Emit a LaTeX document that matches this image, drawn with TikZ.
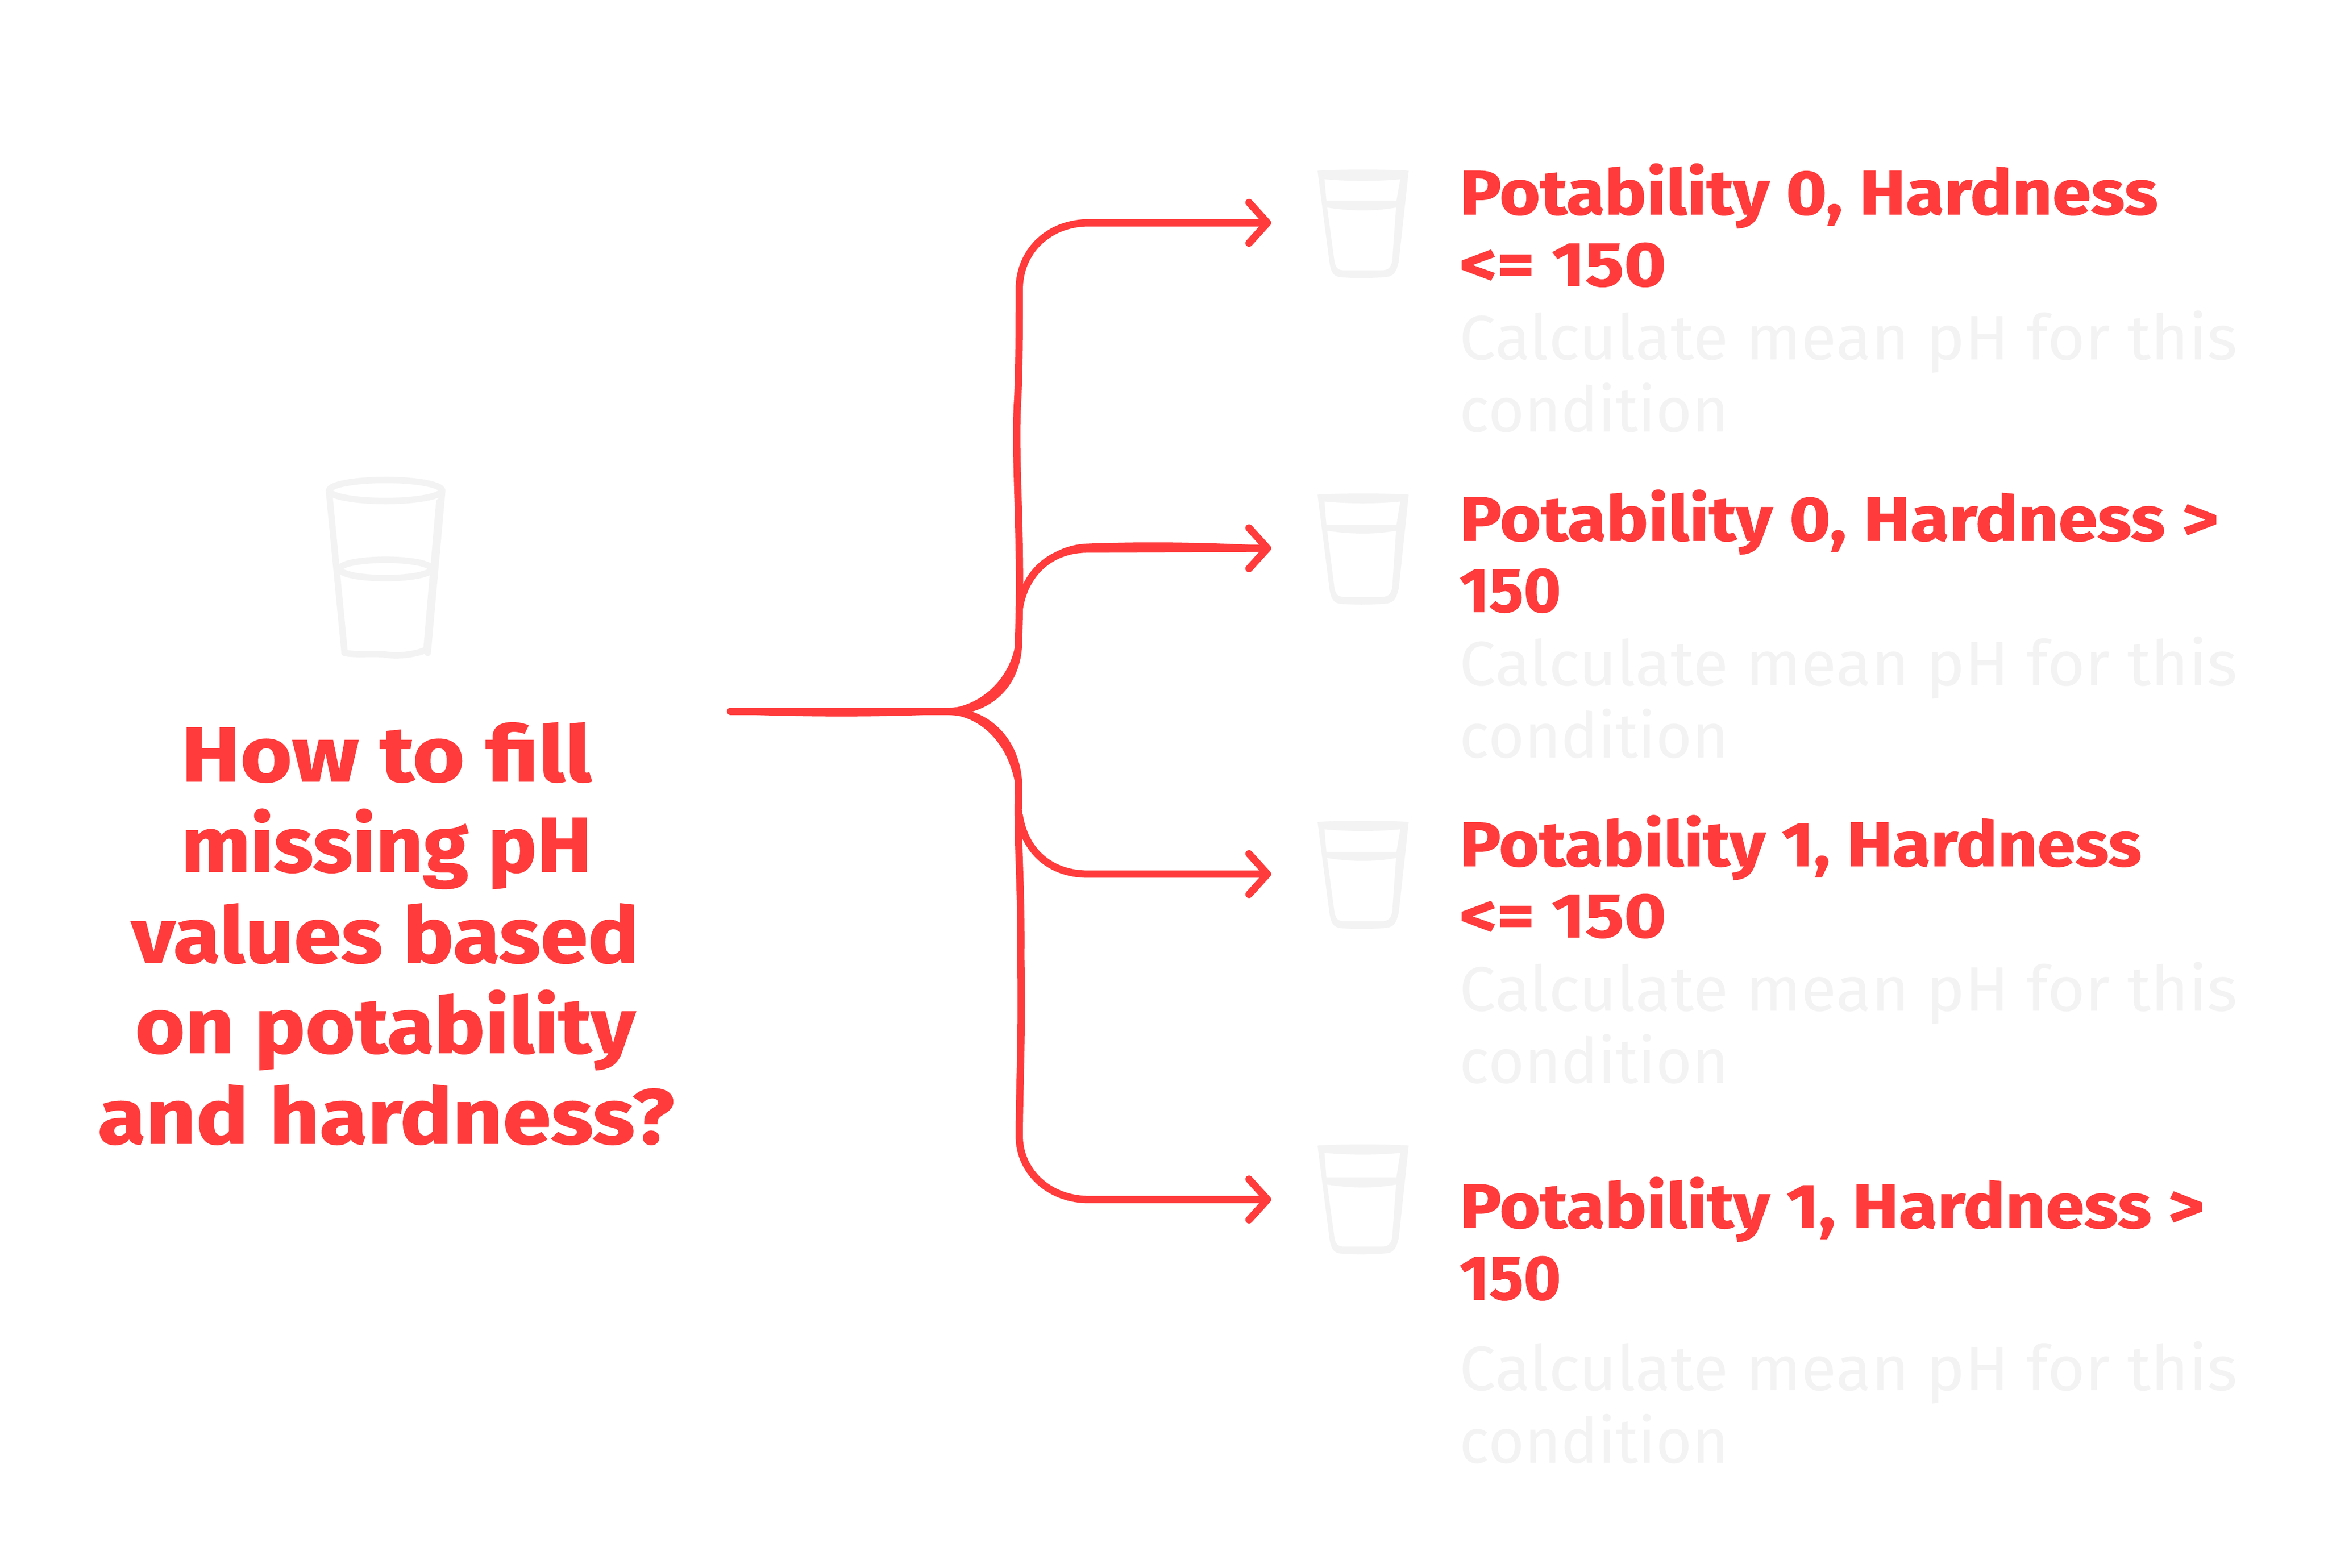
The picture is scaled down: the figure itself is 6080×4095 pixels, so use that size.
\documentclass[tikz,border=0pt]{standalone}
\usepackage{fontspec}
\usepackage{graphicx}
\newfontfamily\handbold[FakeBold=0.9]{Fira Sans Bold}
\newfontfamily\handreg{Fira Sans}
\definecolor{redink}{HTML}{FF3B3B}
\definecolor{palegray}{HTML}{F3F3F3}
\newcommand{\fitw}[2]{\resizebox{\dimexpr #1pt/4\relax}{\height}{#2}}
\tikzset{
  titleline/.style={inner sep=0pt,anchor=base,text=redink,font=\handbold\fontsize{50.75pt}{60pt}\selectfont},
  headline/.style={inner sep=0pt,anchor=base west,text=redink,font=\handbold\fontsize{41pt}{47pt}\selectfont},
  noteline/.style={inner sep=0pt,anchor=base west,text=palegray,font=\handreg\fontsize{41pt}{47pt}\selectfont},
  conn/.style={draw=redink,line width=4.8pt,line cap=round,line join=round},
  connthin/.style={draw=redink,line width=3.6pt,line cap=round,line join=round},
  glassink/.style={draw=palegray,line width=4.2pt,line cap=round,line join=round},
  glassfill/.style={fill=palegray,even odd rule},
}
% top, inner top, water top, water bottom, bottom
\newcommand{\smallglass}[5]{%
  \path[glassfill]
    (3441,#1+4) .. controls (3480,#1) and (3640,#1) .. (3679,#1+4)
    -- (3653,#5-40) .. controls (3645,#5-10) and (3640,#5-2) .. (3615,#5)
    .. controls (3570,#5+3) and (3540,#5+3) .. (3500,#5)
    .. controls (3485,#5-2) and (3476,#5-10) .. (3472,#5-40) -- cycle
    (3459,#2) .. controls (3520,#2+6) and (3600,#2+6) .. (3657,#2)
    -- (3647,#3) -- (3464,#3) -- cycle
    (3466,#4-4) .. controls (3530,#4+6) and (3590,#4+6) .. (3646,#4-4)
    -- (3636,#5-42) .. controls (3632,#5-24) and (3625,#5-18) .. (3608,#5-18)
    -- (3510,#5-18) .. controls (3495,#5-18) and (3488,#5-24) .. (3485,#5-42) -- cycle;
}
\begin{document}
\begin{tikzpicture}[x=0.25pt,y=-0.25pt]
\useasboundingbox (0,0) rectangle (6080,4095);
\fill[white] (0,0) rectangle (6080,4095);

% large glass
\draw[glassink] (1007,1281) ellipse [x radius=147,y radius=27.5];
\draw[glassink] (1007,1486) ellipse [x radius=120,y radius=24];
\draw[glassink] (859,1281) -- (900,1705);
\draw[glassink] (1155,1281) -- (1117,1705);
\draw[draw=palegray,line width=3.5pt,line cap=round] (1146,1310) -- (1113,1690);
\draw[glassink] (900,1705) .. controls (925,1712) and (980,1705) .. (1010,1710)
   .. controls (1050,1716) and (1100,1705) .. (1117,1695);

% small glasses
\smallglass{442}{468}{524}{546}{724}
\smallglass{1288}{1310}{1371}{1390}{1577}
\smallglass{2143}{2166}{2225}{2245}{2424}
\smallglass{2988}{3011}{3075}{3098}{3274}

% title
\node[titleline] (t1) at (1009,2041) {\fitw{1072}{How to fill}};
\node[titleline] (t2) at (1009,2277) {\fitw{1072}{missing pH}};
\node[titleline] (t3) at (1006,2514) {\fitw{1326}{values based}};
\node[titleline] (t4) at (1006,2750) {\fitw{1306}{on potability}};
\node[titleline] (t5) at (1008,2987) {\fitw{1505}{and hardness?}};

% row texts
\node[headline] (a1) at (3811,560) {\fitw{1824}{Potability 0, Hardness}};
\node[headline] (a2) at (3811,747) {\fitw{540}{<= 150}};
\node[noteline] (a3) at (3811,939) {\fitw{2032}{Calculate mean pH for this}};
\node[noteline] (a4) at (3811,1128) {\fitw{703}{condition}};

\node[headline] (b1) at (3811,1412) {\fitw{1982}{Potability 0, Hardness >}};
\node[headline] (b2) at (3811,1598) {\fitw{265}{150}};
\node[noteline] (b3) at (3811,1790) {\fitw{2032}{Calculate mean pH for this}};
\node[noteline] (b4) at (3811,1979) {\fitw{703}{condition}};

\node[headline] (c1) at (3811,2262) {\fitw{1781}{Potability 1, Hardness}};
\node[headline] (c2) at (3811,2448) {\fitw{540}{<= 150}};
\node[noteline] (c3) at (3811,2640) {\fitw{2032}{Calculate mean pH for this}};
\node[noteline] (c4) at (3811,2829) {\fitw{703}{condition}};

\node[headline] (d1) at (3811,3207) {\fitw{1945}{Potability 1, Hardness >}};
\node[headline] (d2) at (3811,3394) {\fitw{265}{150}};
\node[noteline] (d3) at (3811,3632) {\fitw{2032}{Calculate mean pH for this}};
\node[noteline] (d4) at (3811,3821) {\fitw{703}{condition}};

% connector coordinates
\coordinate (start) at (1908,1858);
\coordinate (hub) at (2473,1858);
\coordinate (upstem) at (2660,1674);
\coordinate (lowstem) at (2660,2055);
\coordinate (topbend) at (2662,756);
\coordinate (botbend) at (2662,2967);
\coordinate (end1) at (3310,582);
\coordinate (end2) at (3310,1432);
\coordinate (end3) at (3310,2283);
\coordinate (end4) at (3310,3133);

% trunk
\draw[conn] (start) -- (hub);
\draw[connthin] (start) .. controls (2100,1866) and (2300,1866) .. (hub);
\draw[conn] (hub) .. controls (2590,1858) and (2660,1780) .. (upstem);
\draw[connthin] (hub) .. controls (2570,1852) and (2650,1770) .. (upstem);
\draw[conn] (hub) .. controls (2590,1858) and (2660,1950) .. (lowstem);
\draw[connthin] (hub) .. controls (2560,1862) and (2640,1930) .. (lowstem);

% branches
\draw[conn] (upstem) .. controls (2670,1400) and (2648,1200) .. (2658,1040)
   .. controls (2662,950) and (2662,850) .. (topbend)
   .. controls (2662,655) and (2740,582) .. (2843,582) -- (end1);
\draw[connthin] (2668,1560) .. controls (2698,1480) and (2760,1430) .. (2840,1427)
   .. controls (3000,1421) and (3150,1424) .. (end2);
\draw[conn] (2662,1590) .. controls (2678,1490) and (2750,1434) .. (2840,1434) -- (end2);
\draw[conn] (lowstem) .. controls (2656,2200) and (2668,2300) .. (2666,2500)
   .. controls (2670,2700) and (2662,2850) .. (botbend)
   .. controls (2662,3060) and (2740,3133) .. (2843,3133) -- (end4);
\draw[conn] (2662,2130) .. controls (2678,2230) and (2750,2283) .. (2840,2283) -- (end3);

% arrowheads
\draw[conn] (3262,529) -- (end1) -- (3262,635);
\draw[conn] (3262,1379) -- (end2) -- (3262,1485);
\draw[conn] (3262,2230) -- (end3) -- (3262,2336);
\draw[conn] (3262,3080) -- (end4) -- (3262,3186);
\end{tikzpicture}
\end{document}
